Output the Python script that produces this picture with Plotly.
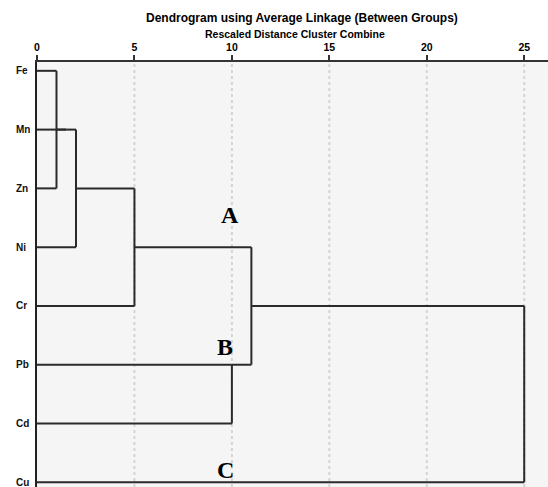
import math
import plotly.graph_objects as go

# Variables in dendrogram (row) order
leaves = ["Fe", "Mn", "Zn", "Ni", "Cr", "Pb", "Cd", "Cu"]

# Agglomeration schedule: clusters 0..7 are the leaves, each merge creates cluster 8, 9, ...
merge_a = [0, 8, 9, 10, 5, 11, 13]
merge_b = [2, 1, 3, 4, 6, 12, 7]
merge_dist = [1.0, 1.5, 2.0, 5.0, 10.0, 11.0, 25.0]

# Group labels and where they sit (rescaled distance, row)
group_names = ["A", "B", "C"]
group_x = [9.9, 9.65, 9.65]
group_y = [2.45, 4.69, 6.79]

ticks = [0, 5, 10, 15, 20, 25]

# Build the dendrogram segments
pos = {i: float(i) for i in range(len(leaves))}
height = {i: 0.0 for i in range(len(leaves))}
xs, ys = [], []
for k, (a, b, d) in enumerate(zip(merge_a, merge_b, merge_dist)):
    new = len(leaves) + k
    for c in (a, b):
        xs += [height[c], d, None]
        ys += [pos[c], pos[c], None]
    xs += [d, d, None]
    ys += [pos[a], pos[b], None]
    pos[new] = float(math.floor((pos[a] + pos[b]) / 2))
    height[new] = d

line_col = "#2a2a2a"
fig = go.Figure()

# Dotted reference lines at each tick (except the left edge)
for t in ticks[1:]:
    fig.add_shape(type="line", xref="x", yref="paper", x0=t, x1=t, y0=0, y1=1,
                  layer="below", line=dict(color="#d4d4d4", width=2, dash="dot"))

fig.add_trace(go.Scatter(x=xs, y=ys, mode="lines",
                         line=dict(color=line_col, width=2),
                         hoverinfo="skip", showlegend=False))

for name, gx, gy in zip(group_names, group_x, group_y):
    fig.add_annotation(x=gx, y=gy, text=f"<b>{name}</b>", showarrow=False,
                       font=dict(family="Liberation Serif", size=24, color="black"),
                       xanchor="center", yanchor="middle")

# Row labels, left-aligned in the left margin
for i, v in enumerate(leaves):
    fig.add_annotation(xref="paper", x=0, xshift=-23, y=i, text=f"<b>{v}</b>",
                       showarrow=False, xanchor="left", yanchor="middle",
                       font=dict(family="Liberation Sans", size=10, color="#111"))

fig.add_annotation(xref="paper", yref="paper", x=0.519, y=1, yshift=44,
                   text="<b>Dendrogram using Average Linkage (Between Groups)</b>",
                   showarrow=False, xanchor="center", yanchor="middle",
                   font=dict(family="Liberation Sans", size=12, color="black"))
fig.add_annotation(xref="paper", yref="paper", x=0.505, y=1, yshift=28,
                   text="<b>Rescaled Distance Cluster Combine</b>",
                   showarrow=False, xanchor="center", yanchor="middle",
                   font=dict(family="Liberation Sans", size=10.5, color="black"))

fig.update_layout(
    width=548, height=487,
    margin=dict(l=37, r=0, t=62, b=0),
    paper_bgcolor="white", plot_bgcolor="#f5f5f5",
    font=dict(family="Liberation Sans", color="black"),
    xaxis=dict(side="top", range=[0, 26.22], tickvals=ticks,
               ticktext=[f"<b>{t}</b>" for t in ticks],
               ticks="outside", ticklen=5, tickwidth=2, tickcolor="#333",
               tickfont=dict(size=10.5), showline=True, linecolor="#333",
               linewidth=2, showgrid=False, zeroline=False, fixedrange=True),
    yaxis=dict(range=[7.08, -0.15], showticklabels=False, ticks="",
               showline=True, linecolor="#222", linewidth=2,
               showgrid=False, zeroline=False, fixedrange=True),
)

fig.write_html("out.html")
